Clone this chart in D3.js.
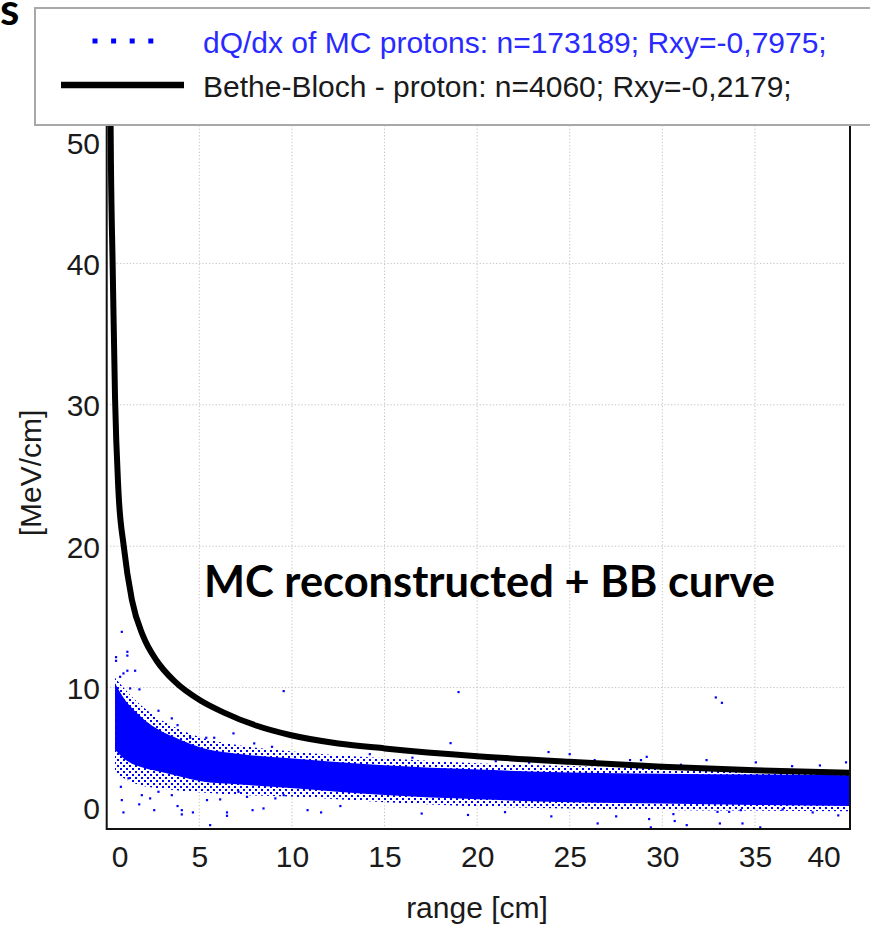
<!DOCTYPE html>
<html>
<head>
<meta charset="utf-8">
<script src="https://cdn.jsdelivr.net/npm/d3@7"></script>
<style>
  html, body { margin: 0; padding: 0; background: #fff; }
  svg { display: block; }
</style>
</head>
<body>
<svg id="chart" width="870" height="929"></svg>
<script>
// ---- data ---------------------------------------------------------------
const xTicks = [0, 5, 10, 15, 20, 25, 30, 35, 40];
const yTicks = [0, 10, 20, 30, 40, 50];

// Bethe-Bloch proton curve: dE/dx [MeV/cm] versus residual range [cm]
const bbRange = [0.17, 0.20, 0.23, 0.32, 0.45, 0.63, 0.92, 1.36, 1.98, 2.70, 3.70, 5.04, 6.3, 8.1, 9.9, 12.5, 15, 20, 25, 30, 35, 40.13];
const bbValue = [56, 51.5, 47, 40, 30.5, 24, 20, 16.2, 13.6, 11.9, 10.4, 9.1, 8.25, 7.3, 6.65, 6.05, 5.7, 5.15, 4.75, 4.4, 4.15, 3.98];

// dQ/dx of MC protons: dense core and sparse edges of the distribution
const bandRange = [0.45, 0.9, 1.8, 2.7, 4.0, 5.0, 7.2, 9.9, 15, 20, 25, 30, 35, 40.13];
const coreHigh  = [10.3, 9.3, 8.0, 7.1, 6.3, 5.8, 5.3, 5.0, 4.5, 4.2, 4.0, 3.9, 3.85, 3.8];
const coreLow   = [5.6, 5.0, 4.4, 4.1, 3.7, 3.4, 3.15, 2.9, 2.4, 2.1, 1.9, 1.8, 1.7, 1.62];
const edgeHigh  = [10.7, 10.0, 8.8, 7.9, 7.0, 6.5, 5.9, 5.5, 5.0, 4.65, 4.45, 4.3, 4.2, 4.15];
const edgeLow   = [4.0, 3.6, 3.1, 2.9, 2.7, 2.6, 2.4, 2.3, 1.9, 1.6, 1.45, 1.35, 1.3, 1.25];

// isolated hits away from the bulk: [range cm, dQ/dx MeV/cm]
const strayHits = [
  [0.81, 13.95], [0.50, 12.16], [0.50, 11.90], [1.11, 12.54], [1.11, 12.27],
  [0.72, 10.77], [0.90, 11.01], [1.11, 11.20], [1.53, 11.20], [1.26, 9.95],
  [1.76, 9.88], [2.79, 8.37], [3.51, 7.83], [3.82, 7.35], [4.50, 6.46],
  [5.37, 6.46], [5.80, 6.46], [6.84, 6.77], [7.96, 6.06], [8.92, 5.82],
  [9.55, 9.76], [18.99, 9.69], [11.67, 6.22], [18.56, 6.08], [19.07, 5.30],
  [23.85, 5.45], [24.99, 5.30], [26.34, 4.88], [29.15, 5.11], [28.25, 4.88],
  [28.84, 4.88], [32.38, 4.88], [32.88, 9.31], [33.21, 8.93], [39.91, 4.72],
  [35.04, 4.72], [0.90, 1.18], [1.75, 1.75], [2.56, 1.34], [3.82, 1.63],
  [4.05, 1.34], [4.05, 1.04], [4.65, 1.18], [5.58, 0.28], [6.49, 1.18],
  [6.49, 0.94], [7.87, 1.34], [8.46, 1.46], [10.84, 1.34], [11.57, 1.18],
  [12.61, 1.63], [29.28, 0.71], [29.37, 0.12], [30.59, 1.06], [30.66, 0.57],
  [31.31, 0.28], [33.10, 0.40], [34.32, 0.40], [35.28, 0.12], [32.97, 1.22],
  [33.60, 1.22], [34.23, 1.34], [39.49, 0.97], [38.11, 1.18], [36.49, 1.39],
  [0.76, 2.99], [0.81, 2.05], [1.17, 3.59], [1.89, 2.40], [2.34, 2.17],
  [2.79, 2.64], [3.51, 2.40], [5.41, 2.05], [6.12, 2.10], [7.11, 2.64],
  [7.57, 2.28], [9.10, 2.17], [9.55, 2.40], [17.0, 1.1], [19.5, 1.0],
  [21.5, 1.2], [24.0, 0.9], [26.5, 0.4], [27.5, 0.9], [14.2, 5.3],
  [16.5, 5.05], [21.0, 4.8], [22.8, 4.7], [31.0, 4.55], [37.0, 4.45], [38.5, 4.5]
];

const legendItems = [
  "dQ/dx of MC protons: n=173189; Rxy=-0,7975;",
  "Bethe-Bloch - proton: n=4060; Rxy=-0,2179;"
];

// ---- layout -------------------------------------------------------------
const plot = { left: 106.7, right: 850, top: 122, bottom: 829 };
const svg = d3.select("#chart");
const x = d3.scaleLinear().domain([0, 40.13]).range([plot.left, plot.right]);
const y = d3.scaleLinear().domain([0, 50]).range([plot.bottom, plot.top]);
const axisFont = "'Liberation Sans', Arial, sans-serif";
const blue = "#0000ff";

const defs = svg.append("defs");
defs.append("clipPath").attr("id", "plotClip")
  .append("rect")
  .attr("x", plot.left).attr("y", plot.top)
  .attr("width", plot.right - plot.left).attr("height", plot.bottom - plot.top);

// stipple used for the sparse edges of the point cloud
const pat = defs.append("pattern").attr("id", "stipple")
  .attr("patternUnits", "userSpaceOnUse").attr("width", 6).attr("height", 6);
pat.append("rect").attr("x", 0).attr("y", 0).attr("width", 2).attr("height", 2).attr("fill", blue);
pat.append("rect").attr("x", 3).attr("y", 3).attr("width", 2).attr("height", 2).attr("fill", blue);

// ---- grid ---------------------------------------------------------------
const grid = svg.append("g").attr("stroke", "#c4c4c4").attr("stroke-width", 1)
  .attr("stroke-dasharray", "1.3,2");
grid.selectAll("line.v").data(xTicks.filter(t => t > 0 && t < 40)).join("line")
  .attr("x1", d => x(d)).attr("x2", d => x(d))
  .attr("y1", plot.top).attr("y2", plot.bottom);
grid.selectAll("line.h").data(yTicks.filter(t => t > 0 && t < 50)).join("line")
  .attr("x1", plot.left).attr("x2", plot.right - 4)
  .attr("y1", d => y(d)).attr("y2", d => y(d));

// ---- point cloud --------------------------------------------------------
const cloud = svg.append("g").attr("clip-path", "url(#plotClip)");
const bandIdx = d3.range(bandRange.length);
const area = (hi, lo) => d3.area()
  .x(i => x(bandRange[i])).y0(i => y(lo[i])).y1(i => y(hi[i]))
  .curve(d3.curveMonotoneX);

cloud.append("path").attr("d", area(edgeHigh, edgeLow)(bandIdx))
  .attr("fill", "url(#stipple)");
cloud.append("path").attr("d", area(coreHigh, coreLow)(bandIdx))
  .attr("fill", blue);
cloud.selectAll("rect.hit").data(strayHits).join("rect")
  .attr("x", d => x(d[0]) - 1).attr("y", d => y(d[1]) - 1)
  .attr("width", 2.2).attr("height", 2.2).attr("fill", blue);

// ---- Bethe-Bloch curve --------------------------------------------------
const bbIdx = d3.range(bbRange.length);
svg.append("path").attr("clip-path", "url(#plotClip)")
  .attr("d", d3.line().x(i => x(bbRange[i])).y(i => y(bbValue[i])).curve(d3.curveMonotoneX)(bbIdx))
  .attr("fill", "none").attr("stroke", "#000").attr("stroke-width", 6);

// ---- frame --------------------------------------------------------------
svg.append("path")
  .attr("d", `M${plot.left},${plot.top}V${plot.bottom}H${plot.right}V${plot.top}`)
  .attr("fill", "none").attr("stroke", "#111").attr("stroke-width", 2);

// ---- axes ---------------------------------------------------------------
const xAxis = svg.append("g").attr("transform", `translate(0,${plot.bottom})`)
  .call(d3.axisBottom(x).tickValues(xTicks).tickSize(0).tickPadding(16).tickFormat(d3.format("d")));
const yAxis = svg.append("g").attr("transform", `translate(${plot.left - 6.7},0)`)
  .call(d3.axisLeft(y).tickValues(yTicks).tickSize(0).tickPadding(0).tickFormat(d3.format("d")));
[xAxis, yAxis].forEach(g => {
  g.select(".domain").remove();
  g.selectAll("text").attr("font-family", axisFont).attr("font-size", 30).attr("fill", "#1a1a1a");
});
xAxis.selectAll("text").attr("dy", null).attr("y", 38);
// edge labels are pulled inside the frame
xAxis.selectAll(".tick").filter(d => d === 0).select("text").attr("x", 13);
xAxis.selectAll(".tick").filter(d => d === 40).select("text").attr("x", -24);
yAxis.selectAll("text").attr("dy", "0.36em");
yAxis.selectAll(".tick").filter(d => d === 0).select("text").attr("y", -21);
yAxis.selectAll(".tick").filter(d => d === 50).select("text").attr("y", 21);

svg.append("text").attr("x", 477).attr("y", 918).attr("text-anchor", "middle")
  .attr("font-family", axisFont).attr("font-size", 30).attr("fill", "#1a1a1a")
  .text("range [cm]");
svg.append("text").attr("transform", "translate(41,473) rotate(-90)").attr("text-anchor", "middle")
  .attr("font-family", axisFont).attr("font-size", 30).attr("fill", "#1a1a1a")
  .text("[MeV/cm]");

// ---- legend -------------------------------------------------------------
const legend = svg.append("g");
legend.append("rect").attr("x", 35).attr("y", 8).attr("width", 860).attr("height", 117)
  .attr("fill", "#fff").attr("stroke", "#a8a8a8").attr("stroke-width", 2);
legend.selectAll("rect.dot").data(d3.range(4)).join("rect")
  .attr("x", i => 92.5 + i * 18.6).attr("y", 38.5).attr("width", 5).attr("height", 5)
  .attr("fill", blue);
legend.append("line").attr("x1", 61).attr("x2", 184).attr("y1", 85).attr("y2", 85)
  .attr("stroke", "#000").attr("stroke-width", 6.5);
legend.selectAll("text").data(legendItems).join("text")
  .attr("x", 203).attr("y", (d, i) => 53 + i * 44)
  .attr("font-family", axisFont).attr("font-size", 30)
  .attr("fill", (d, i) => i === 0 ? "#2a2aff" : "#1a1a1a")
  .text(d => d);

// ---- annotations --------------------------------------------------------
const note = svg.append("text").attr("x", 204).attr("y", 597)
  .attr("font-family", "Lato, 'Open Sans', sans-serif").attr("font-weight", 700)
  .attr("font-size", 40).attr("fill", "#000")
  .text("MC reconstructed + BB curve");
const noteWidth = note.node().getComputedTextLength();
note.attr("font-size", 40 * 571 / noteWidth);

svg.append("text").attr("x", 0).attr("y", 25)
  .attr("font-family", "Lato, 'Open Sans', sans-serif").attr("font-weight", 700)
  .attr("font-size", 44).attr("fill", "#000").text("s");
</script>
</body>
</html>
